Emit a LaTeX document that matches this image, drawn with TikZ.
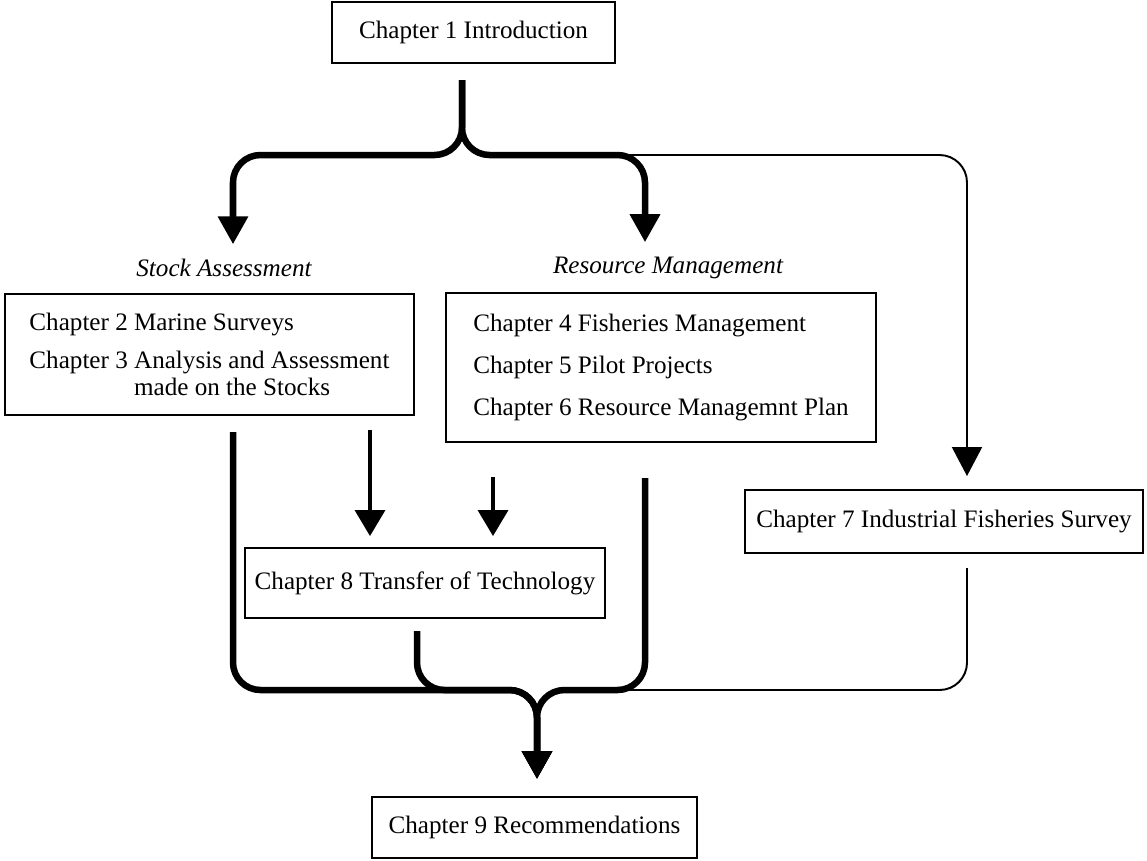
\documentclass[tikz,border=0pt]{standalone}
\usepackage{fontspec}
\setmainfont{Liberation Serif}
\usetikzlibrary{arrows.meta}

\begin{document}
\begin{tikzpicture}[x=0.02cm, y=-0.02cm, font=\fontsize{14.3}{15.3}\selectfont]
\tikzset{
  chap/.style ={draw, line width=1.1pt, inner sep=0pt, align=left},
  part/.style ={font=\fontsize{14.3}{15.3}\selectfont\itshape, inner sep=4pt},
  fat/.style  ={line width=3.7pt, rounded corners=0.55cm},
  fatA/.style ={fat, -{Triangle[length=0.56cm, width=0.58cm]}},
  slim/.style ={line width=2pt, -{Triangle[length=0.52cm, width=0.6cm]}},
  hair/.style ={line width=1.1pt, rounded corners=0.55cm},
  hairA/.style={hair, -{Triangle[length=0.58cm, width=0.6cm]}}
}
\useasboundingbox (0,0) rectangle (1147,860);

\node (ch1)[chap, minimum width=5.66cm, minimum height=1.22cm] at (473.5,32.5) {Chapter 1 Introduction};
\node (sa)[part] at (224,268) {Stock Assessment};
\node (rm)[part] at (668,268) {Resource Management};
\node (sb)[chap, minimum width=8.18cm, minimum height=2.42cm] at (209.5,354.5)
  {Chapter 2 Marine Surveys\\[6.2pt]
   Chapter 3 Analysis and Assessment\\
   \hphantom{Chapter 3 }made on the Stocks};
\node (rb)[chap, minimum width=8.6cm, minimum height=2.98cm] at (661,367.5)
  {Chapter 4 Fisheries Management\\[8.5pt]
   Chapter 5 Pilot Projects\\[8.5pt]
   Chapter 6 Resource Managemnt Plan};
\node (ch7)[chap, minimum width=7.96cm, minimum height=1.26cm] at (944,521.5) {Chapter 7 Industrial Fisheries Survey};
\node (ch8)[chap, minimum width=7.2cm, minimum height=1.4cm] at (425,583) {Chapter 8 Transfer of Technology};
\node (ch9)[chap, minimum width=6.5cm, minimum height=1.22cm] at (534.5,827.5) {Chapter 9 Recommendations};

% split below chapter 1
\coordinate (sp) at (462,80);
\coordinate (spj) at (462,155);
\coordinate (spr) at (620,155);
\draw[hairA, shorten >=0.26cm] (spr) -| ([xshift=0.46cm]ch7.north);
\draw[fatA, shorten >=0.15cm] (sp) -- (spj) -| ([xshift=0.18cm]sa.north);
\draw[fatA, shorten >=0.15cm] (sp) -- (spj) -| ([xshift=-0.46cm]rm.north);

% into chapter 8
\coordinate (a1) at (370,430);
\coordinate (a2) at (493,477);
\draw[slim, shorten >=0.22cm] (a1) -- (a1 |- ch8.north);
\draw[slim, shorten >=0.22cm] (a2) -- (a2 |- ch8.north);

% merge into chapter 9
\coordinate (mj) at (537,690);
\coordinate (l1) at (233,432);
\coordinate (r1) at (645,478);
\coordinate (c8) at (417,631);
\coordinate (c7) at (967,568);
\draw[hair] (c7) |- (spr |- mj);
\draw[fatA, shorten >=0.34cm] (l1) |- (mj) -- (mj |- ch9.north);
\draw[fatA, shorten >=0.34cm] (r1) |- (mj) -- (mj |- ch9.north);
\draw[fatA, shorten >=0.34cm] (c8) |- (mj) -- (mj |- ch9.north);
\end{tikzpicture}
\end{document}
